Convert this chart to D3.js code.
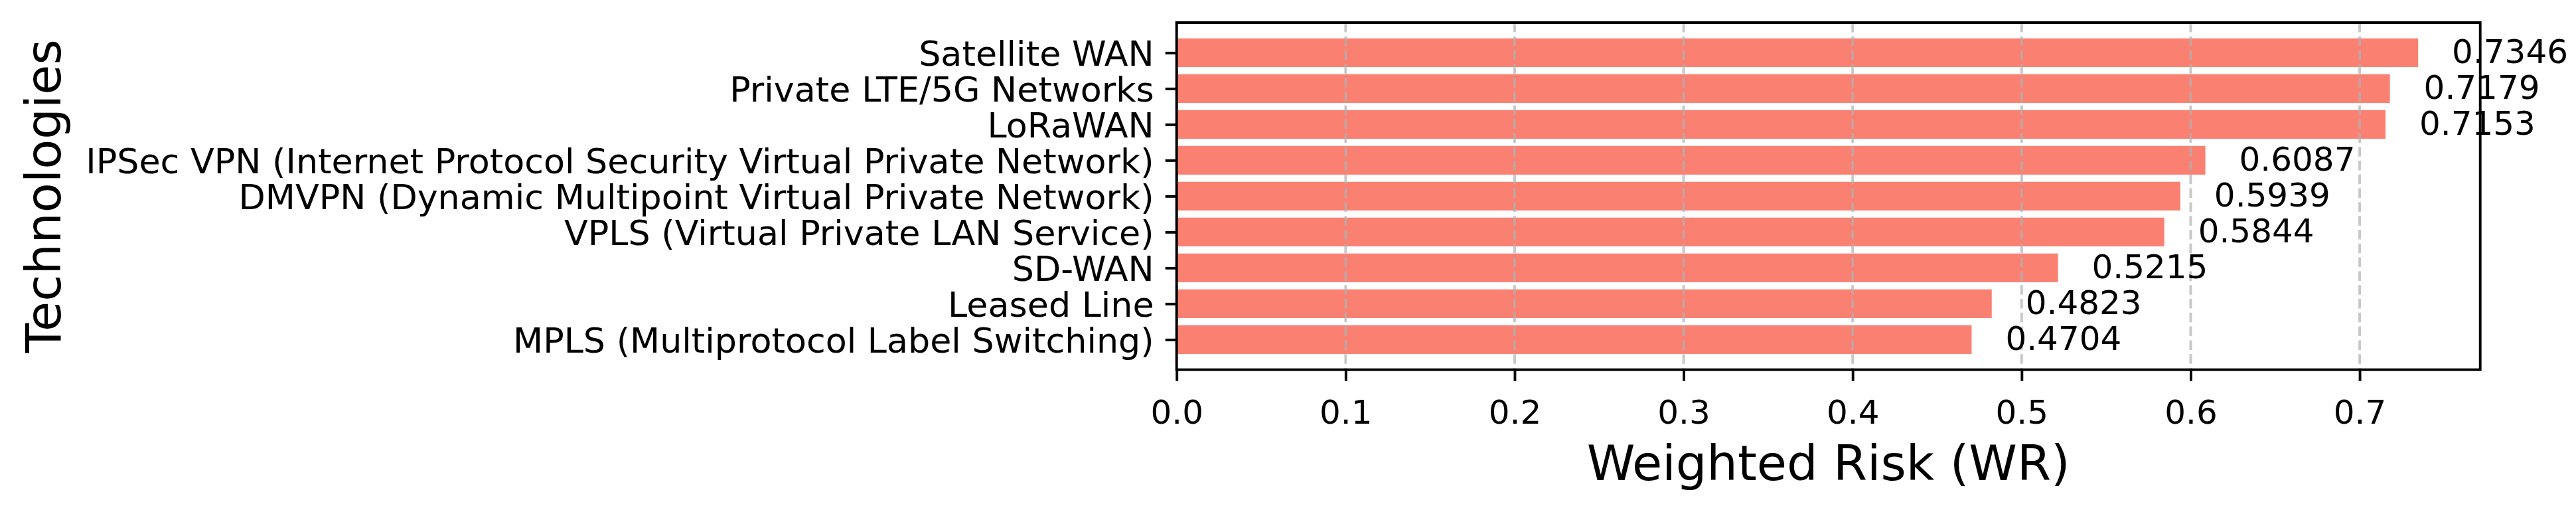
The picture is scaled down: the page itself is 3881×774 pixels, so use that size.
<!DOCTYPE html>
<html>
<head>
<meta charset="utf-8">
<script src="https://cdn.jsdelivr.net/npm/d3@7"></script>
<style>
  html, body { margin: 0; padding: 0; background: #fff; }
  svg { display: block; }
  text { font-family: "DejaVu Sans", sans-serif; fill: #000; }
</style>
</head>
<body>
<svg id="chart" width="3881" height="774"></svg>
<script>
// ---- Data (bottom to top, as drawn) ----
const technologies = [
  "MPLS (Multiprotocol Label Switching)",
  "Leased Line",
  "SD-WAN",
  "VPLS (Virtual Private LAN Service)",
  "DMVPN (Dynamic Multipoint Virtual Private Network)",
  "IPSec VPN (Internet Protocol Security Virtual Private Network)",
  "LoRaWAN",
  "Private LTE/5G Networks",
  "Satellite WAN"
];
const weightedRisk = [0.4704, 0.4823, 0.5215, 0.5844, 0.5939, 0.6087, 0.7153, 0.7179, 0.7346];
const xTicks = [0.0, 0.1, 0.2, 0.3, 0.4, 0.5, 0.6, 0.7];
const xLabel = "Weighted Risk (WR)";
const yLabel = "Technologies";

(function () {
// ---- Layout ----
const W = 3881, H = 774;
const pL = 1772.7, pR = 3736.7, pT = 34, pB = 556.7;
const yTickFs = 52.3, xTickFs = 50, valFs = 50, labelFs = 73.5;

const svg = d3.select("#chart");
svg.append("rect").attr("width", W).attr("height", H).attr("fill", "#fff");

const xMax = d3.max(weightedRisk) * 1.05;
const x = d3.scaleLinear().domain([0, xMax]).range([pL, pR]);
const n = technologies.length;
const y = d3.scaleLinear().domain([-0.4 - 0.44, (n - 1) + 0.4 + 0.44]).range([pB, pT]);
const barH = 0.8;

const data = technologies.map((t, i) => ({ t, v: weightedRisk[i], i }));

// Bars
svg.append("g").selectAll("rect").data(data).join("rect")
  .attr("x", x(0))
  .attr("y", d => y(d.i + barH / 2))
  .attr("width", d => x(d.v) - x(0))
  .attr("height", d => y(d.i - barH / 2) - y(d.i + barH / 2))
  .attr("fill", "#FA8072");

// Grid (x, dashed, over bars)
svg.append("g").selectAll("line").data(xTicks).join("line")
  .attr("x1", d => x(d)).attr("x2", d => x(d))
  .attr("y1", pT).attr("y2", pB)
  .attr("stroke", "#b0b0b0").attr("stroke-opacity", 0.7)
  .attr("stroke-width", 3.9)
  .attr("stroke-dasharray", "14.5,6.3");

// Value labels
svg.append("g").selectAll("text").data(data).join("text")
  .attr("x", d => x(d.v + 0.02))
  .attr("y", d => y(d.i) + 15.5)
  .attr("font-size", valFs)
  .attr("text-anchor", "start")
  .text(d => d.v.toFixed(4));

// Spines
svg.append("rect")
  .attr("x", pL).attr("y", pT)
  .attr("width", pR - pL).attr("height", pB - pT)
  .attr("fill", "none").attr("stroke", "#000").attr("stroke-width", 3.9);

// X axis via d3.axisBottom
const xAxis = d3.axisBottom(x).tickValues(xTicks).tickFormat(d3.format(".1f"))
  .tickSize(17).tickPadding(17);
const gx = svg.append("g").attr("transform", `translate(0,${pB})`).call(xAxis);
gx.select(".domain").remove();
gx.selectAll(".tick line").attr("stroke", "#000").attr("stroke-width", 3.9);
gx.selectAll(".tick text")
  .attr("font-size", xTickFs).attr("font-family", "DejaVu Sans")
  .attr("fill", "#000").attr("dy", null).attr("y", 81);

// Y axis via d3.axisLeft
const yAxis = d3.axisLeft(y).tickValues(d3.range(n)).tickFormat(i => technologies[i])
  .tickSize(17).tickPadding(17);
const gy = svg.append("g").attr("transform", `translate(${pL},0)`).call(yAxis);
gy.select(".domain").remove();
gy.selectAll(".tick line").attr("stroke", "#000").attr("stroke-width", 3.9);
gy.selectAll(".tick text")
  .attr("font-size", yTickFs).attr("font-family", "DejaVu Sans")
  .attr("fill", "#000").attr("dy", null).attr("y", 19);

// Axis labels
svg.append("text")
  .attr("x", (pL + pR) / 2).attr("y", 723)
  .attr("text-anchor", "middle").attr("font-size", labelFs)
  .text(xLabel);

svg.append("text")
  .attr("transform", `translate(91,${(pT + pB) / 2}) rotate(-90)`)
  .attr("text-anchor", "middle").attr("font-size", labelFs)
  .text(yLabel);
})();
</script>
</body>
</html>
